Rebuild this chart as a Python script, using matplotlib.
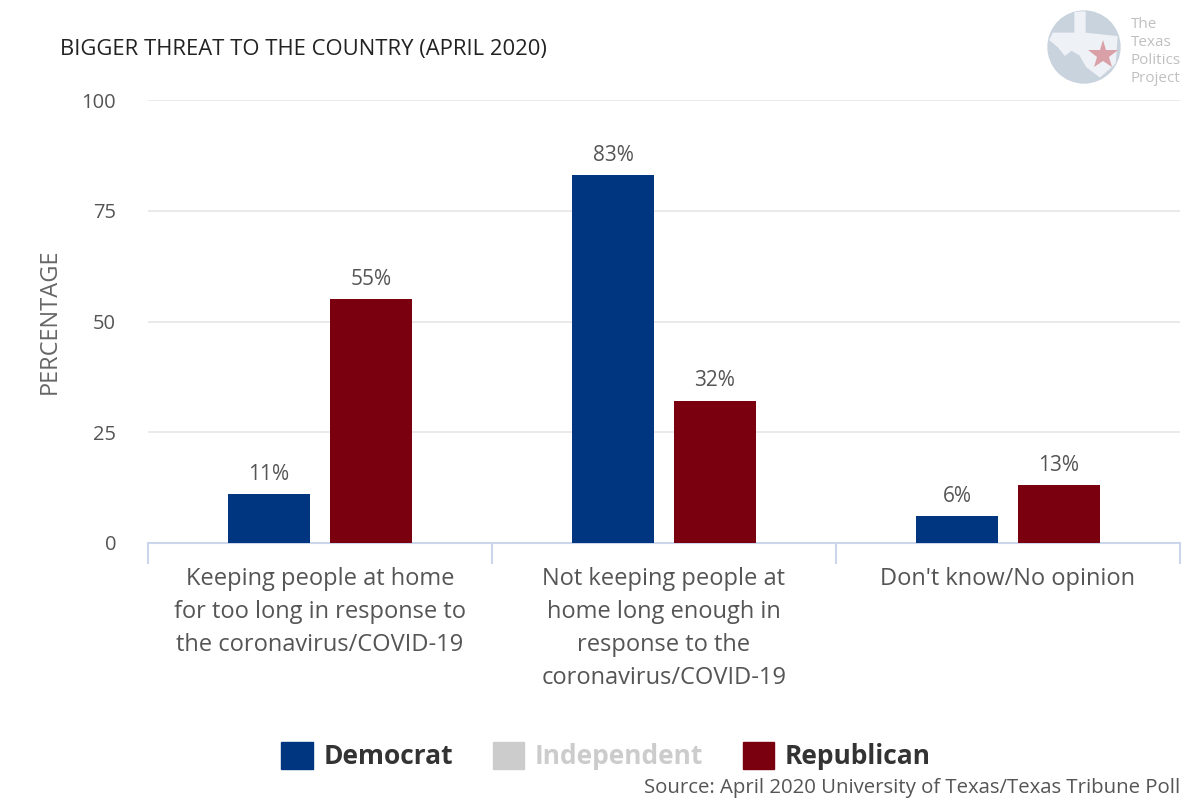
import numpy as np
import matplotlib.pyplot as plt
from matplotlib.patches import Circle, Rectangle, Polygon

plt.rcParams['font.family'] = ['Open Sans', 'DejaVu Sans']

categories = ["Keeping people at home\nfor too long in response to\nthe coronavirus/COVID-19",
              "Not keeping people at\nhome long enough in\nresponse to the\ncoronavirus/COVID-19",
              "Don't know/No opinion"]
series = ["Democrat", "Independent", "Republican"]
democrat = [11, 83, 6]
independent = [0, 0, 0]
republican = [55, 32, 13]
colors = ["#003580", "#cccccc", "#7a0010"]

fig = plt.figure(figsize=(12, 8), dpi=100)
ax = fig.add_axes([148/1200, 1-543/800, 1032/1200, 443/800])

x = np.arange(len(categories))
width = 0.238
offsets = {"Democrat": -0.148, "Republican": 0.148}
for vals, col, name in zip([democrat, independent, republican], colors, series):
    if name == "Independent":
        continue  # no values shown for this series
    bars = ax.bar(x + offsets[name], vals, width, color=col, zorder=3)
    for b, v in zip(bars, vals):
        ax.text(b.get_x() + b.get_width()/2, v + 2.2, f"{v}%", ha='center', va='bottom',
                fontsize=15, color='#555555')

ax.set_xlim(-0.5, 2.5)
ax.set_ylim(0, 100)
ax.set_yticks([0, 25, 50, 75, 100])
ax.grid(axis='y', color='#e6e6e6', linewidth=1.2, zorder=0)
for s in ['top', 'right', 'left']:
    ax.spines[s].set_visible(False)
ax.spines['bottom'].set_color('#ccd6eb')
ax.spines['bottom'].set_linewidth(1.5)
ax.tick_params(axis='y', length=0, labelsize=14.5, labelcolor='#555555', pad=23)
ax.set_xticks([-0.5, 0.5, 1.5, 2.5])
ax.set_xticklabels([])
ax.tick_params(axis='x', which='major', length=15, color='#ccd6eb', width=1.5)
ax.set_xticks(x, minor=True)
ax.set_xticklabels(categories, minor=True, fontsize=17, color='#555555', linespacing=1.5, va='top')
ax.tick_params(axis='x', which='minor', length=0, pad=17)
ax.set_ylabel("PERCENTAGE", fontsize=17, color='#666666', labelpad=14)

fig.text(60/1200, 1-50/800, "BIGGER THREAT TO THE COUNTRY (APRIL 2020)", fontsize=15.8,
         color='#222222', va='center', ha='left')

# legend
handles = [Rectangle((0, 0), 1, 1, color=c) for c in colors]
leg = fig.legend(handles, series, loc='center', bbox_to_anchor=(606/1200, 1-756/800), ncol=3,
                 frameon=False, handlelength=1.2, handleheight=1.2,
                 columnspacing=1.5, handletextpad=0.4,
                 prop={'weight': 'bold', 'size': 19})
for t, c in zip(leg.get_texts(), ['#333333', '#cccccc', '#333333']):
    t.set_color(c)

fig.text(1180/1200, 1-788/800, "Source: April 2020 University of Texas/Texas Tribune Poll",
         fontsize=14.7, color='#555555', ha='right', va='center')

# logo
lax = fig.add_axes([1045/1200, 1-88/800, 140/1200, 80/800])
lax.set_xlim(0, 140)
lax.set_ylim(0, 80)
lax.set_aspect('equal')
lax.axis('off')
circ = Circle((39, 41), 36, color='#c9d3de')
lax.add_patch(circ)
texas = Polygon([(30, 76), (40, 76), (40, 54.7), (72, 51.3), (70, 24.7), (55, 11.3),
                 (41.7, 21.3), (35, 33), (26.7, 38), (20, 33), (13.3, 41.3), (5, 48),
                 (8.3, 54.7), (30, 54.7)], closed=True, color='#eef1f5')
lax.add_patch(texas)
texas.set_clip_path(circ)
lax.plot([58], [33], marker='*', markersize=22, color='#d9a0a8', markeredgewidth=0)
for i, w in enumerate(["The", "Texas", "Politics", "Project"]):
    lax.text(86, 63 - i*17.7, w, fontsize=11, color='#c0c0c0', ha='left', va='center')

fig.savefig("out.png", dpi=100)
